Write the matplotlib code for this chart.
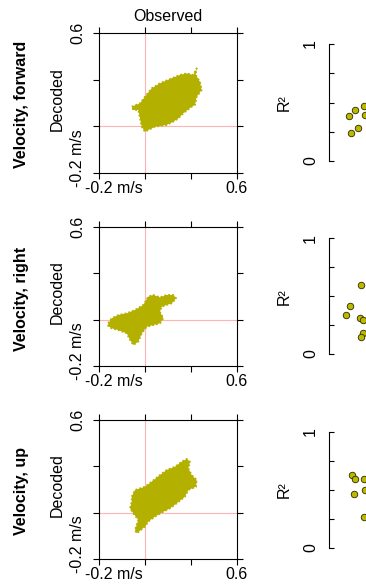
import numpy as np
import matplotlib.pyplot as plt
from matplotlib.transforms import ScaledTranslation

plt.rcParams['font.family'] = ['Liberation Sans', 'DejaVu Sans']
plt.rcParams['font.size'] = 11.5

# ---------------- data ----------------
rows = ['Velocity, forward', 'Velocity, right', 'Velocity, up']
axis_ticks = [-0.2, 0.0667, 0.3333, 0.6]
axis_labels = ['-0.2 m/s', '', '', '0.6']

# outline of the decoded-vs-observed cloud in each row
cloud_fwd_x = [-0.011, 0.037, 0.066, 0.105, 0.153, 0.222, 0.270, 0.309, 0.347, 0.367,
               0.361, 0.386, 0.396, 0.367, 0.357, 0.338, 0.289, 0.260, 0.231, 0.192,
               0.124, 0.085, 0.066, 0.047, 0.037, 0.027, -0.002]
cloud_fwd_y = [0.179, 0.198, 0.236, 0.284, 0.313, 0.342, 0.361, 0.370, 0.361, 0.399,
               0.361, 0.322, 0.275, 0.236, 0.189, 0.179, 0.141, 0.112, 0.093, 0.074,
               0.064, 0.045, 0.035, 0.064, 0.112, 0.160, 0.160]

cloud_right_x = [-0.148, -0.128, -0.089, -0.040, 0.008, 0.056, 0.085, 0.114, 0.153, 0.192,
                 0.231, 0.247, 0.222, 0.192, 0.163, 0.153, 0.173, 0.153, 0.114, 0.076,
                 0.047, 0.027, -0.002, -0.021, -0.040, -0.089, -0.128, -0.148]
cloud_right_y = [0.045, 0.074, 0.093, 0.103, 0.122, 0.151, 0.199, 0.209, 0.195, 0.209,
                 0.209, 0.190, 0.161, 0.151, 0.141, 0.112, 0.074, 0.045, 0.035, 0.025,
                 -0.013, -0.061, -0.080, -0.051, -0.013, 0.006, 0.016, 0.029]

cloud_up_x = [-0.011, 0.008, 0.066, 0.105, 0.153, 0.192, 0.241, 0.280, 0.309, 0.328,
              0.318, 0.338, 0.367, 0.363, 0.318, 0.299, 0.251, 0.212, 0.173, 0.124,
              0.085, 0.066, 0.018, 0.008, 0.027, -0.002, -0.021, -0.011]
cloud_up_y = [0.159, 0.197, 0.216, 0.245, 0.283, 0.312, 0.331, 0.360, 0.376, 0.360,
              0.322, 0.283, 0.255, 0.216, 0.197, 0.159, 0.121, 0.092, 0.072, 0.044,
              0.015, -0.014, -0.052, -0.033, 0.025, 0.063, 0.092, 0.130]

# R^2 per session (x = jitter position)
r2_fwd_x = [19.3, 25.7, 34.3, 36.0, 21.7, 29.0]
r2_fwd = [0.385, 0.439, 0.470, 0.390, 0.236, 0.279]
r2_right_x = [32.0, 20.3, 17.0, 30.3, 33.3, 33.7, 31.3]
r2_right = [0.594, 0.412, 0.334, 0.314, 0.294, 0.184, 0.150]
r2_up_x = [22.7, 25.3, 34.3, 35.3, 24.7, 34.3]
r2_up = [0.624, 0.592, 0.589, 0.497, 0.466, 0.267]

clouds = [(cloud_fwd_x, cloud_fwd_y), (cloud_right_x, cloud_right_y), (cloud_up_x, cloud_up_y)]
r2_sets = [(r2_fwd_x, r2_fwd), (r2_right_x, r2_right), (r2_up_x, r2_up)]

olive = '#b4b000'
pink = '#ffb4b4'

W, H = 366, 588
fig = plt.figure(figsize=(W / 100, H / 100), dpi=100)

def px(l, t, r, b):
    return [l / W, 1 - b / H, (r - l) / W, (b - t) / H]

scatter_boxes = [(99.3, 33.3, 236.7, 172.7), (99.3, 227.3, 236.7, 365.7), (99.3, 420, 236.7, 559)]
r2_boxes = [(329.3, 44, 429.3, 161), (329.3, 238.3, 429.3, 354), (329.3, 431.7, 429.3, 547.7)]
row_centres = [104, 299, 491]

for i in range(3):
    ax = fig.add_axes(px(*scatter_boxes[i]))
    ax.set_xlim(-0.2, 0.6)
    ax.set_ylim(-0.2, 0.6)
    ref = axis_ticks[1]
    ax.axvline(ref, color=pink, lw=0.8, zorder=1)
    ax.axhline(ref, color=pink, lw=0.8, zorder=1)
    cx, cy = clouds[i]
    ax.fill(cx, cy, color=olive, lw=0, zorder=2)
    # ragged, dotted fringe like the plotted trajectory
    ax.plot(cx + cx[:1], cy + cy[:1], color=olive, lw=1.3, ls=(0, (1, 1.2)), zorder=2)

    for s in ax.spines.values():
        s.set_linewidth(0.8)
    ax.tick_params(direction='out', length=4, width=0.8, top=True, right=True, pad=2)
    ax.set_xticks(axis_ticks, axis_labels)
    ax.set_yticks(axis_ticks, axis_labels, rotation=90, va='center')
    ax.tick_params(axis='y', pad=6)

    # "-0.2" sits on its tick, the unit runs past it
    xl = ax.get_xticklabels()[0]
    xl.set_ha('left')
    xl.set_transform(xl.get_transform() + ScaledTranslation(-0.14, 0, fig.dpi_scale_trans))
    yl = ax.get_yticklabels()[0]
    yl.set_va('bottom')
    yl.set_transform(yl.get_transform() + ScaledTranslation(0, -0.14, fig.dpi_scale_trans))

    ax.set_ylabel('Decoded')
    ax.yaxis.set_label_coords(-0.255, 0.53)
    if i == 0:
        ax.set_title('Observed', fontsize=11.5, pad=9)

    fig.text(21.5 / W, 1 - row_centres[i] / H, rows[i], rotation=90,
             ha='center', va='center', fontweight='bold', fontsize=11.5)

    # R^2 panel
    ax2 = fig.add_axes(px(*r2_boxes[i]))
    ax2.set_xlim(0, 100)
    ax2.set_ylim(0, 1)
    for k in ['top', 'right', 'bottom']:
        ax2.spines[k].set_visible(False)
    ax2.spines['left'].set_linewidth(0.8)
    ax2.xaxis.set_visible(False)
    ax2.set_yticks([0, 0.25, 0.5, 0.75, 1], ['0', '', '', '', '1'], rotation=90, va='center')
    ax2.tick_params(axis='y', direction='in', length=3.5, width=0.8, pad=8)
    ax2.patch.set_visible(False)
    rx, ry = r2_sets[i]
    ax2.scatter(rx, ry, s=22, color='#bcb800', edgecolor='#2a2a00', linewidth=0.6,
                zorder=3, clip_on=False)
    ax2.set_ylabel('R²', labelpad=8)

fig.savefig('out.png', dpi=100)
